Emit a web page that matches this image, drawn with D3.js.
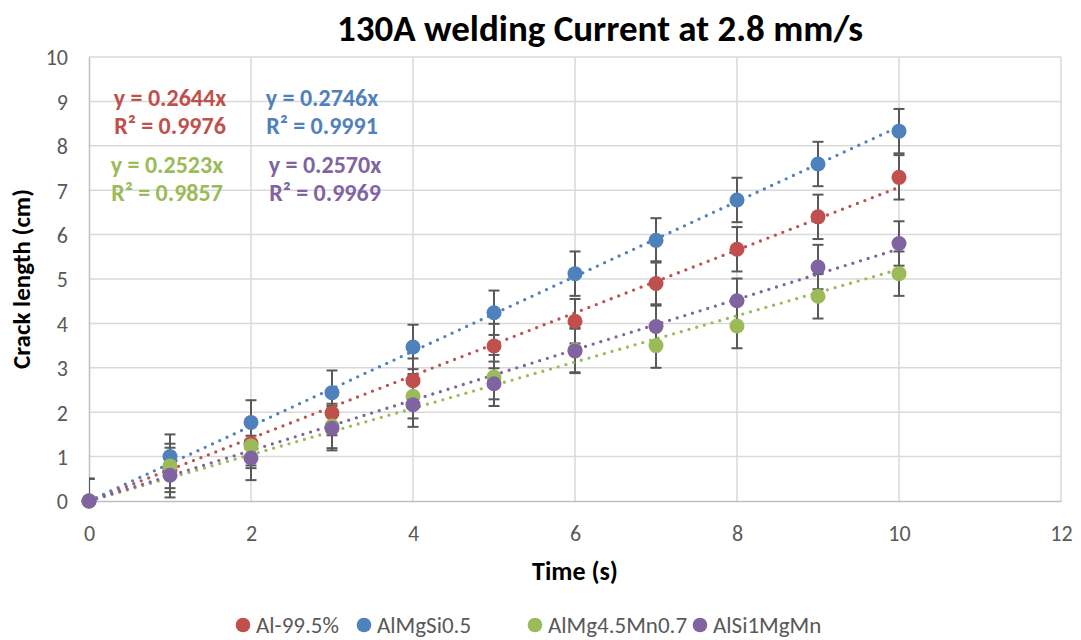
<!DOCTYPE html>
<html>
<head>
<meta charset="utf-8">
<script src="https://cdn.jsdelivr.net/npm/d3@7"></script>
<style>
  html, body { margin: 0; padding: 0; background: #ffffff; }
  svg { display: block; }
  text { font-family: Carlito, Lato, "Open Sans", sans-serif; }
</style>
</head>
<body>
<svg id="chart" width="1081" height="640"></svg>
<script>
// Crack length measured once per second for four alloys
const times = [0, 1, 2, 3, 4, 5, 6, 7, 8, 9, 10];
const al995     = [0, 0.70, 1.30, 1.98, 2.71, 3.49, 4.05, 4.90, 5.67, 6.40, 7.29];
const almgsi05  = [0, 1.00, 1.77, 2.44, 3.47, 4.24, 5.12, 5.87, 6.78, 7.59, 8.33];
const almg45mn  = [0, 0.79, 1.24, 1.69, 2.36, 2.79, 3.40, 3.50, 3.94, 4.61, 5.12];
const alsi1mgmn = [0, 0.58, 0.97, 1.64, 2.17, 2.64, 3.38, 3.93, 4.51, 5.27, 5.80];
const errorBar = 0.5;

const seriesNames = ["Al-99.5%", "AlMgSi0.5", "AlMg4.5Mn0.7", "AlSi1MgMn"];
const seriesColors = ["#c0504d", "#4f81bd", "#9bbb59", "#8064a2"];
const trendEquations = ["y = 0.2644x", "y = 0.2746x", "y = 0.2523x", "y = 0.2570x"];
const trendR2 = ["R² = 0.9976", "R² = 0.9991", "R² = 0.9857", "R² = 0.9969"];

const xTicks = [0, 2, 4, 6, 8, 10, 12];
const yTicks = [0, 1, 2, 3, 4, 5, 6, 7, 8, 9, 10];

const series = [al995, almgsi05, almg45mn, alsi1mgmn].map((vals, i) => ({
  name: seriesNames[i],
  color: seriesColors[i],
  eq: trendEquations[i],
  r2: trendR2[i],
  points: times.map((t, j) => ({ x: t, y: vals[j] }))
}));

const svg = d3.select("#chart");
const plot = { left: 89, right: 1061, top: 57, bottom: 501 };

const x = d3.scaleLinear().domain([0, 12]).range([plot.left, plot.right]);
const y = d3.scaleLinear().domain([0, 10]).range([plot.bottom, plot.top]);

const gridColor = "#d9d9d9";
const axisColor = "#bfbfbf";
const labelColor = "#595959";
const fontStack = "Carlito, Lato, 'Open Sans', sans-serif";

// Gridlines
svg.append("g").selectAll("line").data(yTicks.slice(1)).join("line")
  .attr("x1", plot.left).attr("x2", plot.right)
  .attr("y1", d => y(d)).attr("y2", d => y(d))
  .attr("stroke", gridColor).attr("stroke-width", 1.5);
svg.append("g").selectAll("line").data(xTicks.slice(1)).join("line")
  .attr("x1", d => x(d)).attr("x2", d => x(d))
  .attr("y1", plot.top).attr("y2", plot.bottom)
  .attr("stroke", gridColor).attr("stroke-width", 1.5);

// Axes
const xAxis = svg.append("g").attr("transform", `translate(0,${plot.bottom})`)
  .call(d3.axisBottom(x).tickValues(xTicks).tickSize(0));
const yAxis = svg.append("g").attr("transform", `translate(${plot.left},0)`)
  .call(d3.axisLeft(y).tickValues(yTicks).tickSize(0).tickPadding(21));
[xAxis, yAxis].forEach(a => {
  a.select(".domain").attr("stroke", axisColor).attr("stroke-width", 1.5);
  a.selectAll("text").attr("fill", labelColor).attr("font-size", 22)
    .style("font-family", fontStack);
});
xAxis.selectAll("text").attr("dy", null).attr("y", 40);
yAxis.selectAll("text").attr("dy", "0.36em");

// Clip marks to the plotting region
svg.append("clipPath").attr("id", "plotClip").append("rect")
  .attr("x", plot.left).attr("y", plot.top)
  .attr("width", plot.right - plot.left).attr("height", plot.bottom - plot.top);

const marks = svg.append("g").attr("clip-path", "url(#plotClip)");

// Error bars (fixed ±0.5 cm)
const capHalf = 5.5;
series.forEach(s => {
  const g = marks.append("g").attr("stroke", "#595959").attr("stroke-width", 2).attr("fill", "none");
  s.points.forEach(p => {
    const y0 = y(p.y - errorBar), y1 = y(p.y + errorBar), cx = x(p.x);
    g.append("line").attr("x1", cx).attr("x2", cx).attr("y1", y0).attr("y2", y1);
    g.append("line").attr("x1", cx - capHalf).attr("x2", cx + capHalf).attr("y1", y0).attr("y2", y0);
    g.append("line").attr("x1", cx - capHalf).attr("x2", cx + capHalf).attr("y1", y1).attr("y2", y1);
  });
});

// Linear trendlines through the origin (least squares)
series.forEach(s => {
  const sxy = d3.sum(s.points, p => p.x * p.y);
  const sxx = d3.sum(s.points, p => p.x * p.x);
  const slope = sxy / sxx;
  const ext = d3.extent(times);
  marks.append("line")
    .attr("x1", x(ext[0])).attr("y1", y(slope * ext[0]))
    .attr("x2", x(ext[1])).attr("y2", y(slope * ext[1]))
    .attr("stroke", s.color).attr("stroke-width", 3.3)
    .attr("stroke-linecap", "round").attr("stroke-dasharray", "0 8");
});

// Markers
series.forEach(s => {
  svg.append("g").selectAll("circle").data(s.points).join("circle")
    .attr("cx", d => x(d.x)).attr("cy", d => y(d.y)).attr("r", 7.5)
    .attr("fill", s.color);
});

// Trendline equations
const eqPos = [[170, 106], [322, 106], [167, 173], [325, 173]];
series.forEach((s, i) => {
  const t = svg.append("text").attr("text-anchor", "middle")
    .attr("fill", s.color).attr("font-weight", "bold").attr("font-size", 24);
  t.append("tspan").attr("x", eqPos[i][0]).attr("y", eqPos[i][1]).text(s.eq);
  t.append("tspan").attr("x", eqPos[i][0]).attr("y", eqPos[i][1] + 28).text(s.r2);
});

// Title and axis titles
svg.append("text").attr("x", 600).attr("y", 41).attr("text-anchor", "middle")
  .attr("font-weight", "bold").attr("font-size", 37).attr("fill", "#000")
  .text("130A welding Current at 2.8 mm/s");
svg.append("text").attr("x", 575).attr("y", 580).attr("text-anchor", "middle")
  .attr("font-weight", "bold").attr("font-size", 26).attr("fill", "#000")
  .text("Time (s)");
svg.append("text").attr("transform", `translate(30,${(plot.top + plot.bottom) / 2}) rotate(-90)`)
  .attr("text-anchor", "middle")
  .attr("font-weight", "bold").attr("font-size", 25).attr("fill", "#000")
  .text("Crack length (cm)");

// Legend
const legendX = [243, 364, 535, 700];
const legend = svg.append("g").selectAll("g").data(series).join("g")
  .attr("transform", (d, i) => `translate(${legendX[i]},625)`);
legend.append("circle").attr("r", 7.3).attr("fill", d => d.color);
legend.append("text").attr("x", 13).attr("y", 7.5)
  .attr("font-size", 23).attr("fill", labelColor).text(d => d.name);
</script>
</body>
</html>
